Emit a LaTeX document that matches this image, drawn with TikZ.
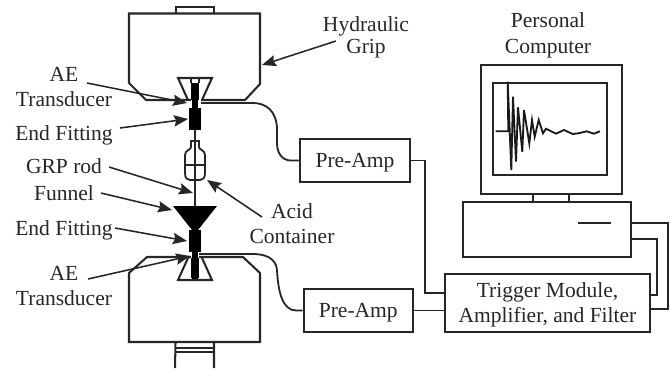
\documentclass[tikz,border=0pt]{standalone}
\usepackage{fontspec}
\setmainfont{Liberation Serif}
\usepackage{xcolor}
\usetikzlibrary{arrows.meta,positioning}

\tikzset{
  part/.style={line width=1.45pt, draw=black!85},
  wire/.style={line width=1.3pt, draw=black!85},
  ptr/.style={line width=1.1pt, draw=black!85, -{Stealth[length=10pt,width=8pt,inset=1.5pt]}},
  txt/.style={inner sep=0pt, align=center, text=black!85, font=\fontsize{15.3}{17.9}\selectfont},
  unit/.style={part, inner sep=0pt, align=center, text=black!85, font=\fontsize{15.3}{17.9}\selectfont}
}

\begin{document}
\begin{tikzpicture}[x=0.025cm, y=-0.025cm]
  \useasboundingbox (0,0) rectangle (670,370);

  % Upper grip
  \draw[part] (176,13) -- (176,7) -- (214,7) -- (214,13);
  \draw[part] (191,100) -- (146,100) -- (129,83) -- (129,13.5) -- (260,13.5) -- (260,84) -- (245,100) -- (201,100);
  \draw[part] (188,100) -- (178,78) -- (212,78) -- (202,100);
  \fill[black] (191,83) rectangle (199,100);
  \fill[black] (192,100) rectangle (198,108);
  \draw[line width=0.9pt, draw=black!85] (191,83) -- (191,79) (199,83) -- (199,79);
  \fill[black] (189,108) rectangle (201,130);

  % Rod and acid container
  \draw[wire] (195,130) -- (195,206);
  \draw[wire] (191,147) -- (191,141) -- (199,141) -- (199,147)
    .. controls (199,150) and (205,150) .. (205,155) -- (205,173)
    .. controls (205,178) and (203,180) .. (200,180) -- (190,180)
    .. controls (187,180) and (185,178) .. (185,173) -- (185,155)
    .. controls (185,150) and (191,150) .. cycle;
  \draw[wire] (185,165) -- (205,165);

  % Funnel and lower end fitting
  \fill[black] (173,206) -- (217,206) -- (198,230) -- (192,230) -- cycle;
  \fill[black] (189,230) rectangle (201,252);
  \fill[black] (192,252) rectangle (198,280);

  % Lower grip
  \draw[part] (191,257) -- (147,257) -- (129,273) -- (129,342) -- (260,342) -- (260,273) -- (243,257) -- (199,257);
  \draw[part] (188,258) -- (178,280) -- (212,280) -- (202,258);
  \fill[black] (191,258) rectangle (199,278);
  \draw[part] (175,368) -- (175.5,343) (214,368) -- (214,343);
  \draw[line width=0.9pt, draw=black!85] (175,348) -- (214,348) (175,352) -- (214,352);

  % Computer
  \draw[part] (481,65) rectangle (622,194);
  \draw[part] (493,83) rectangle (607,175);
  \draw[part] (533,194) rectangle (569,202);
  \draw[part] (463,202) rectangle (631,257);
  \draw[part] (578,223) -- (611,223);
  \draw[line width=1.3pt, draw=black!90] plot coordinates {(495.7,131.3) (508.3,131.3) (507.7,81.7) (511.3,170) (513,96.7) (516,161.7) (518,107.3) (522.3,151.7) (524,110) (529.3,143.3) (532,120) (534.7,136.7) (538.7,120) (543,133.3) (546,128.7) (556,133.7) (564,130) (572.7,134) (578.3,133.3) (586.7,131.3) (594,133.7) (600,131.3)};

  % Signal units
  \node[unit, minimum width=78.2pt, minimum height=30.6pt] (preAmpTop) at (355,160.5) {\rule{0pt}{12.5pt}Pre-Amp};
  \node[unit, minimum width=77.8pt, minimum height=30.6pt] (preAmpBot) at (358.3,310.5) {\rule{0pt}{12.5pt}Pre-Amp};
  \node[unit, minimum width=145.8pt, minimum height=41.2pt] (trigger) at (547.5,303) {\rule{0pt}{13.4pt}Trigger Module,\\Amplifier, and Filter};

  % Free ends of the wires
  \coordinate (topSensor) at (201,103);
  \coordinate (botSensor) at (199,254);
  \coordinate (trigIn) at (445,293);
  \coordinate (baseOutA) at (631,223);
  \coordinate (baseOutB) at (631,239);
  \coordinate (trigOutA) at (650,309);
  \coordinate (trigOutB) at (650,295);

  \draw[wire] (topSensor) -- (253,103) .. controls (265,103) and (277,110) .. (277,130)
    -- (277,143) .. controls (277,153) and (282,160.5) .. (291,160.5) -- (preAmpTop.west);
  \draw[wire] (botSensor) -- (253,254) .. controls (265,254) and (276,258) .. (277,270)
    .. controls (278,290) and (282,310.5) .. (296,310.5) -- (preAmpBot.west);
  \draw[wire] (preAmpTop.east) -| (425,293) -- (trigIn);
  \draw[wire] (preAmpBot.east) -- (trigger.west |- preAmpBot.east);
  \draw[wire] (baseOutA) -- (668,223) -- (668,309) -- (trigOutA);
  \draw[wire] (baseOutB) -- (657,239) -- (657,295) -- (trigOutB);

  % Labels
  \node[txt] (gripLabel) at (366,37.5) {Hydraulic\\[-2pt]Grip};
  \node[txt] (pcLabel) at (548,35.5) {Personal\\[0.3pt]Computer};
  \node[txt] (aeTop) at (64,87) {AE\\Transducer};
  \node[txt] (endTop) at (64,135) {End Fitting};
  \node[txt] (rodLabel) at (64,166) {GRP rod};
  \node[txt] (funnelLabel) at (64,193) {Funnel};
  \node[txt] (endBot) at (64,230) {End Fitting};
  \node[txt] (aeBot) at (64,286) {AE\\Transducer};
  \node[txt] (acidLabel) at (292,224) {Acid\\Container};

  % Pointers
  \coordinate (gripTail) at (336,41);
  \coordinate (gripHead) at (262,65);
  \coordinate (aeTopTail) at (87,83);
  \coordinate (aeTopHead) at (187,103);
  \coordinate (endTopTail) at (120,128);
  \coordinate (endTopHead) at (188,119);
  \coordinate (rodTail) at (109,167);
  \coordinate (rodHead) at (193,193);
  \coordinate (funnelTail) at (101,193);
  \coordinate (funnelHead) at (172,210);
  \coordinate (endBotTail) at (115,228);
  \coordinate (endBotHead) at (187,241);
  \coordinate (aeBotTail) at (88,279);
  \coordinate (aeBotHead) at (190,256);
  \coordinate (acidTail) at (262,217);
  \coordinate (acidHead) at (207,180);
  \draw[ptr] (gripTail) -- (gripHead);
  \draw[ptr] (aeTopTail) -- (aeTopHead);
  \draw[ptr] (endTopTail) -- (endTopHead);
  \draw[ptr] (rodTail) -- (rodHead);
  \draw[ptr] (funnelTail) -- (funnelHead);
  \draw[ptr] (endBotTail) -- (endBotHead);
  \draw[ptr] (aeBotTail) -- (aeBotHead);
  \draw[ptr] (acidTail) -- (acidHead);
\end{tikzpicture}
\end{document}
